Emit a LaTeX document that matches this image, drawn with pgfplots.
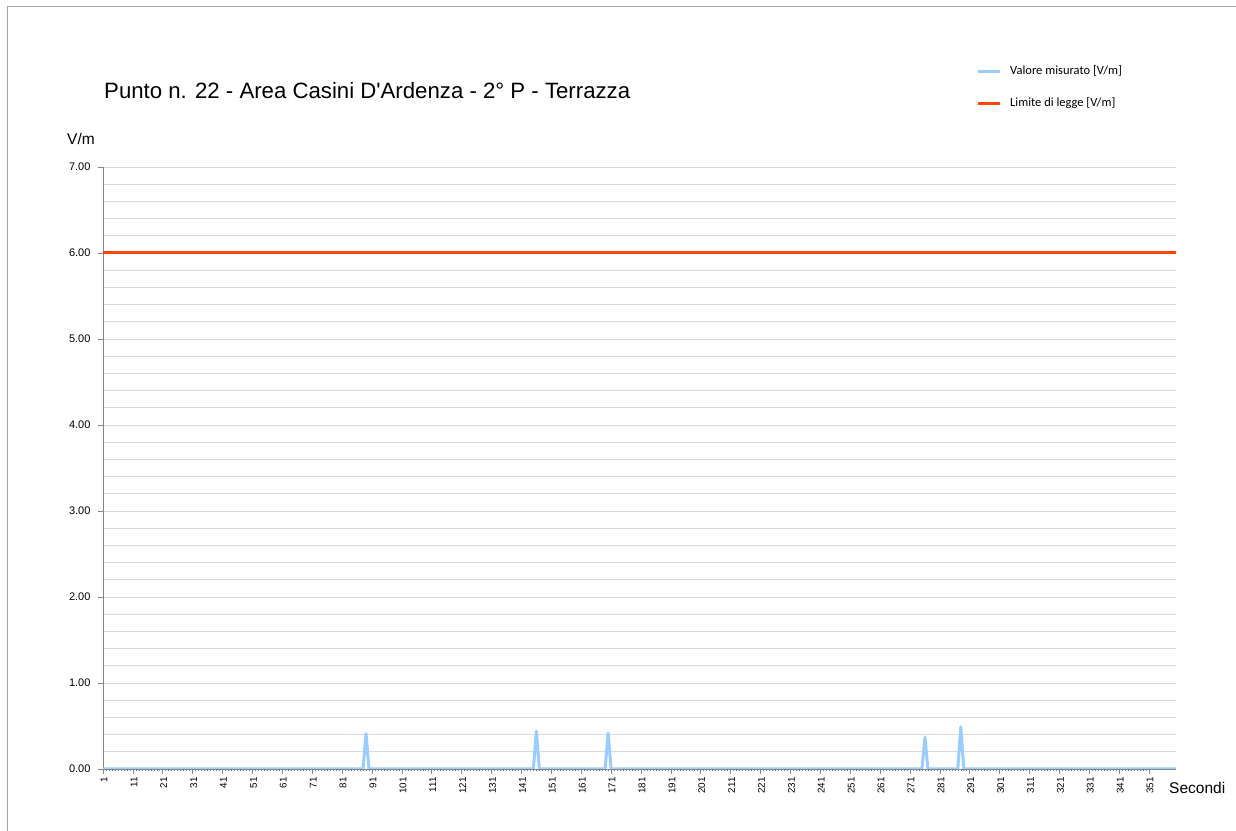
\documentclass[border=0pt]{standalone}
\usepackage{fontspec}
\setmainfont{Liberation Sans}
\newfontfamily\legfont{Carlito}
\usepackage{pgfplots}
\pgfplotsset{compat=1.18}
\definecolor{meas}{RGB}{153,204,255}
\definecolor{lim}{RGB}{255,69,10}
\definecolor{gridc}{RGB}{217,217,217}
\definecolor{axc}{RGB}{134,134,134}
\begin{document}
\begin{tikzpicture}
\useasboundingbox (0,0) rectangle (1236bp,831bp);
\draw[color=gray!70, line width=0.8bp] (7bp,0) -- (7bp,825bp) -- (1236bp,825bp);
\node[anchor=base west, inner sep=0pt, font=\fontsize{22.2bp}{26bp}\selectfont] at (104bp,732bp) {Punto n. 22 - Area Casini D\textquotesingle Ardenza - 2° P - Terrazza};
\node[anchor=west, inner sep=0pt, font=\fontsize{15.5bp}{18bp}\selectfont] at (67bp,692bp) {V/m};
\node[anchor=west, inner sep=0pt, font=\fontsize{15.5bp}{18bp}\selectfont] at (1169bp,43bp) {Secondi};
\begin{axis}[
  at={(103bp,62bp)}, anchor=south west,
  width=1073bp, height=602bp, scale only axis,
  xmin=1, xmax=360, ymin=0, ymax=7,
  axis x line*=bottom, axis y line*=left,
  axis line style={axc, line width=0.75bp},
  xtick={1,11,...,351}, minor x tick num=9,
  ytick={0,1,...,7}, minor y tick num=4,
  tick align=outside, major tick length=5bp, minor tick length=2.5bp,
  tick style={axc, line width=0.6bp},
  minor y tick style={draw=none},
  ymajorgrids, yminorgrids,
  major grid style={gridc, line width=0.9bp},
  minor grid style={gridc, line width=0.9bp},
  y tick label style={font=\fontsize{11bp}{13bp}\selectfont, xshift=-4bp, /pgf/number format/.cd, fixed, fixed zerofill, precision=2, assume math mode=true},
  x tick label style={font=\fontsize{9.8bp}{11bp}\selectfont, rotate=90, anchor=east, yshift=-1bp, /pgf/number format/assume math mode=true},
  legend style={at={(axis description cs:0.8136,1.169)}, anchor=north west, draw=none, fill=none, inner sep=0pt,
    font=\legfont\fontsize{12.5bp}{14bp}\selectfont, row sep=20.5bp,
    nodes={inner sep=0pt, text height=9bp, text depth=2.5bp},
    /tikz/every odd column/.style={column sep=9bp}},
  legend cell align=left,
  legend image code/.code={\draw[#1] (0bp,0bp) -- (22bp,0bp);},
]
\addplot[meas, line width=3bp, line join=round] coordinates {
(1,0) (2,0) (3,0) (4,0) (5,0) (6,0) (7,0) (8,0) (9,0) (10,0)
(11,0) (12,0) (13,0) (14,0) (15,0) (16,0) (17,0) (18,0) (19,0) (20,0)
(21,0) (22,0) (23,0) (24,0) (25,0) (26,0) (27,0) (28,0) (29,0) (30,0)
(31,0) (32,0) (33,0) (34,0) (35,0) (36,0) (37,0) (38,0) (39,0) (40,0)
(41,0) (42,0) (43,0) (44,0) (45,0) (46,0) (47,0) (48,0) (49,0) (50,0)
(51,0) (52,0) (53,0) (54,0) (55,0) (56,0) (57,0) (58,0) (59,0) (60,0)
(61,0) (62,0) (63,0) (64,0) (65,0) (66,0) (67,0) (68,0) (69,0) (70,0)
(71,0) (72,0) (73,0) (74,0) (75,0) (76,0) (77,0) (78,0) (79,0) (80,0)
(81,0) (82,0) (83,0) (84,0) (85,0) (86,0) (87,0) (88,0) (89,0.41) (90,0)
(91,0) (92,0) (93,0) (94,0) (95,0) (96,0) (97,0) (98,0) (99,0) (100,0)
(101,0) (102,0) (103,0) (104,0) (105,0) (106,0) (107,0) (108,0) (109,0) (110,0)
(111,0) (112,0) (113,0) (114,0) (115,0) (116,0) (117,0) (118,0) (119,0) (120,0)
(121,0) (122,0) (123,0) (124,0) (125,0) (126,0) (127,0) (128,0) (129,0) (130,0)
(131,0) (132,0) (133,0) (134,0) (135,0) (136,0) (137,0) (138,0) (139,0) (140,0)
(141,0) (142,0) (143,0) (144,0) (145,0) (146,0.44) (147,0) (148,0) (149,0) (150,0)
(151,0) (152,0) (153,0) (154,0) (155,0) (156,0) (157,0) (158,0) (159,0) (160,0)
(161,0) (162,0) (163,0) (164,0) (165,0) (166,0) (167,0) (168,0) (169,0) (170,0.42)
(171,0) (172,0) (173,0) (174,0) (175,0) (176,0) (177,0) (178,0) (179,0) (180,0)
(181,0) (182,0) (183,0) (184,0) (185,0) (186,0) (187,0) (188,0) (189,0) (190,0)
(191,0) (192,0) (193,0) (194,0) (195,0) (196,0) (197,0) (198,0) (199,0) (200,0)
(201,0) (202,0) (203,0) (204,0) (205,0) (206,0) (207,0) (208,0) (209,0) (210,0)
(211,0) (212,0) (213,0) (214,0) (215,0) (216,0) (217,0) (218,0) (219,0) (220,0)
(221,0) (222,0) (223,0) (224,0) (225,0) (226,0) (227,0) (228,0) (229,0) (230,0)
(231,0) (232,0) (233,0) (234,0) (235,0) (236,0) (237,0) (238,0) (239,0) (240,0)
(241,0) (242,0) (243,0) (244,0) (245,0) (246,0) (247,0) (248,0) (249,0) (250,0)
(251,0) (252,0) (253,0) (254,0) (255,0) (256,0) (257,0) (258,0) (259,0) (260,0)
(261,0) (262,0) (263,0) (264,0) (265,0) (266,0) (267,0) (268,0) (269,0) (270,0)
(271,0) (272,0) (273,0) (274,0) (275,0) (276,0.37) (277,0) (278,0) (279,0) (280,0)
(281,0) (282,0) (283,0) (284,0) (285,0) (286,0) (287,0) (288,0.49) (289,0) (290,0)
(291,0) (292,0) (293,0) (294,0) (295,0) (296,0) (297,0) (298,0) (299,0) (300,0)
(301,0) (302,0) (303,0) (304,0) (305,0) (306,0) (307,0) (308,0) (309,0) (310,0)
(311,0) (312,0) (313,0) (314,0) (315,0) (316,0) (317,0) (318,0) (319,0) (320,0)
(321,0) (322,0) (323,0) (324,0) (325,0) (326,0) (327,0) (328,0) (329,0) (330,0)
(331,0) (332,0) (333,0) (334,0) (335,0) (336,0) (337,0) (338,0) (339,0) (340,0)
(341,0) (342,0) (343,0) (344,0) (345,0) (346,0) (347,0) (348,0) (349,0) (350,0)
(351,0) (352,0) (353,0) (354,0) (355,0) (356,0) (357,0) (358,0) (359,0) (360,0)
};
\addlegendentry{Valore misurato [V/m]}
\addplot[lim, line width=3bp] coordinates {(1,6) (360,6)};
\addlegendentry{Limite di legge [V/m]}
\end{axis}
\end{tikzpicture}
\end{document}
